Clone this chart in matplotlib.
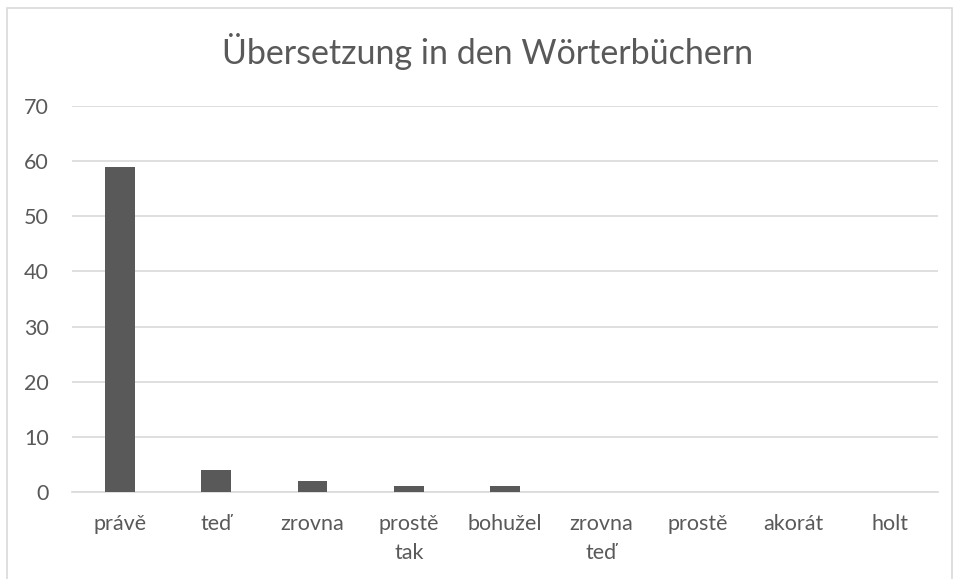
import matplotlib
matplotlib.use("Agg")
import matplotlib.pyplot as plt
from matplotlib.patches import Rectangle

INK, GRID, BAR = "#595959", "#d9d9d9", "#595959"

categories = ["právě", "teď", "zrovna", "prostě\ntak", "bohužel",
              "zrovna\nteď", "prostě", "akorát", "holt"]
counts = [59, 4, 2, 1, 1, 0, 0, 0, 0]
yticks = [0, 10, 20, 30, 40, 50, 60, 70]

plt.rcParams["font.family"] = ["Lato", "DejaVu Sans"]

fig = plt.figure(figsize=(9.55, 5.79), dpi=100)
fig.patch.set_facecolor("white")
# chart frame
fig.patches.append(Rectangle((7 / 955, -0.05), 945 / 955, 1.05 - 8 / 579,
                             transform=fig.transFigure, fill=False,
                             edgecolor=GRID, linewidth=1.2))

ax = fig.add_axes([72 / 955, 1 - 492 / 579, 866 / 955, 386 / 579])
x = range(len(categories))
ax.bar(x, counts, width=0.31, color=BAR, zorder=3)
ax.set_xlim(-0.5, len(categories) - 0.5)
ax.set_ylim(0, 70)
ax.set_yticks(yticks)
ax.set_xticks(list(x))
ax.set_xticklabels(categories, linespacing=1.55)
ax.grid(axis="y", color=GRID, linewidth=1.2, zorder=0)
for side in ("top", "right", "left"):
    ax.spines[side].set_visible(False)
ax.spines["bottom"].set_color(GRID)
ax.spines["bottom"].set_linewidth(1.2)
ax.tick_params(axis="both", length=0, colors=INK, labelsize=15.5)
ax.tick_params(axis="y", pad=16.5)
ax.tick_params(axis="x", pad=16)
for lbl in ax.get_xticklabels():
    lbl.set_verticalalignment("top")

fig.text(488 / 955, 1 - 52 / 579, "Übersetzung in den Wörterbüchern",
         ha="center", va="center", fontsize=24.5, color=INK)

fig.savefig("out.png", dpi=100, facecolor="white")
